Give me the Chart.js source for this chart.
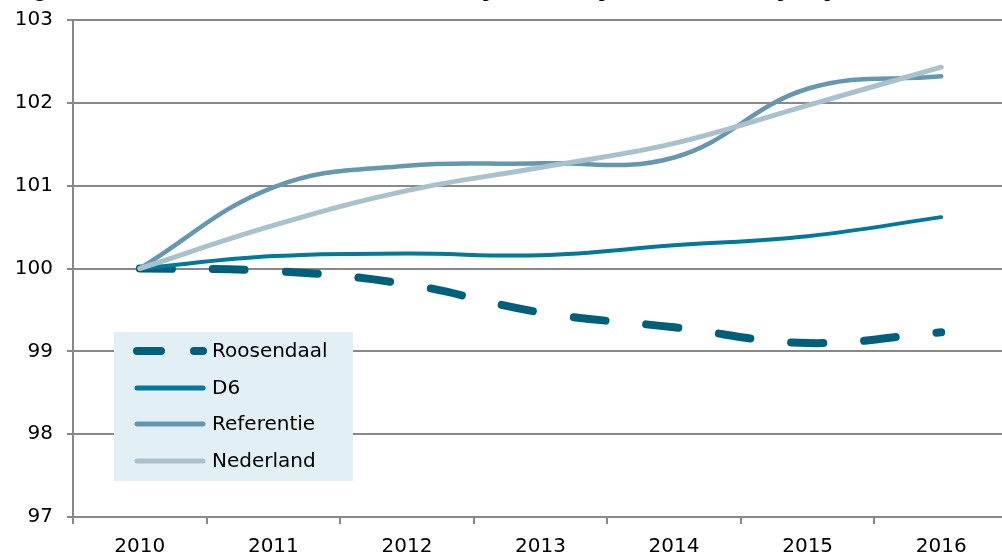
<!DOCTYPE html>
<html lang="nl">
<head>
    <meta charset="UTF-8">
    <title>Bevolkingsontwikkeling Roosendaal</title>
    <script src="https://cdn.jsdelivr.net/npm/chart.js"></script>
    <style>
        body {
            margin: 0;
            background: #fff;
            overflow: hidden;
        }
        .wrap {
            position: relative;
            width: 1010px;
            height: 556px;
        }
    </style>
</head>
<body>
    <div class="wrap">
        <canvas id="chart" width="1010" height="556"></canvas>
    </div>

    <script>
        const years = ['2010', '2011', '2012', '2013', '2014', '2015', '2016'];
        const roosendaal = [100, 99.97, 99.81, 99.47, 99.29, 99.10, 99.23];
        const d6 = [100, 100.15, 100.18, 100.16, 100.28, 100.39, 100.62];
        const referentie = [100, 100.98, 101.24, 101.27, 101.34, 102.17, 102.32];
        const nederland = [100, 100.52, 100.94, 101.22, 101.51, 101.97, 102.43];

        const FONT = "'DejaVu Sans', Verdana, sans-serif";
        const GRID = '#888888';

        // legend drawn inside the plot, in a light blue box
        const boxLegend = {
            id: 'boxLegend',
            afterDatasetsDraw(chart) {
                const ctx = chart.ctx;
                ctx.save();
                ctx.fillStyle = '#e2f0f5';
                ctx.fillRect(114, 332, 239, 149);
                const rows = [351, 388, 424, 461];
                chart.data.datasets.forEach((ds, i) => {
                    const y = rows[i];
                    ctx.beginPath();
                    ctx.strokeStyle = ds.borderColor;
                    ctx.lineWidth = ds.legendWidth;
                    ctx.lineCap = 'round';
                    ctx.setLineDash(ds.borderDash ? [24, 33] : []);
                    ctx.moveTo(137, y);
                    ctx.lineTo(203, y);
                    ctx.stroke();
                    ctx.setLineDash([]);
                    ctx.fillStyle = '#000';
                    ctx.font = '20px ' + FONT;
                    ctx.textBaseline = 'middle';
                    ctx.fillText(ds.label, 212, y + 1);
                });
                ctx.restore();
            }
        };

        // caption above the chart, mostly cut off by the picture edge
        const caption = {
            id: 'caption',
            afterDraw(chart) {
                const ctx = chart.ctx;
                ctx.save();
                ctx.fillStyle = '#000';
                ctx.textBaseline = 'alphabetic';
                ctx.font = 'bold 17px ' + FONT;
                ctx.fillText('Figuur 3', 17, -3);
                ctx.font = '17px ' + FONT;
                ctx.textAlign = 'right';
                ctx.fillText('Index bevolkingsontwikkeling, Roosendaal en omgeving (2010=100)', 942, -3);
                ctx.restore();
            }
        };

        new Chart(document.getElementById('chart'), {
            type: 'line',
            data: {
                labels: years,
                datasets: [
                    {
                        label: 'Roosendaal', data: roosendaal, borderColor: '#005f7a',
                        borderWidth: 8, borderDash: [32, 41], borderCapStyle: 'round',
                        legendWidth: 8, order: 3
                    },
                    {
                        label: 'D6', data: d6, borderColor: '#00799a',
                        borderWidth: 4, borderCapStyle: 'round', legendWidth: 5, order: 2
                    },
                    {
                        label: 'Referentie', data: referentie, borderColor: '#6598b0',
                        borderWidth: 4.5, borderCapStyle: 'round', legendWidth: 5, order: 1
                    },
                    {
                        label: 'Nederland', data: nederland, borderColor: '#a9c0cd',
                        borderWidth: 5, borderCapStyle: 'round', legendWidth: 5, order: 0
                    }
                ]
            },
            options: {
                responsive: false,
                animation: false,
                layout: { padding: { top: 20, right: 2, left: 0, bottom: 0 } },
                elements: {
                    point: { radius: 0 },
                    line: { tension: 0.4, fill: false }
                },
                plugins: {
                    legend: { display: false },
                    tooltip: { enabled: false }
                },
                scales: {
                    x: {
                        offset: true,
                        grid: { offset: true, drawOnChartArea: false, color: GRID, lineWidth: 2, tickLength: 7 },
                        border: { color: GRID, width: 2 },
                        ticks: { color: '#000', font: { family: FONT, size: 20 }, padding: 11, maxRotation: 0 },
                        afterFit(scale) {
                            scale.height = 39;
                            scale.paddingLeft = 0;
                            scale.paddingRight = 0;
                        }
                    },
                    y: {
                        min: 97,
                        max: 103,
                        ticks: { stepSize: 1, color: '#000', font: { family: FONT, size: 20 }, padding: 14 },
                        grid: { color: GRID, lineWidth: 2, tickLength: 6 },
                        border: { color: GRID, width: 2 },
                        afterFit(scale) {
                            scale.width = 73;
                            scale.paddingTop = 0;
                            scale.paddingBottom = 0;
                        }
                    }
                }
            },
            plugins: [boxLegend, caption]
        });
    </script>
</body>
</html>
